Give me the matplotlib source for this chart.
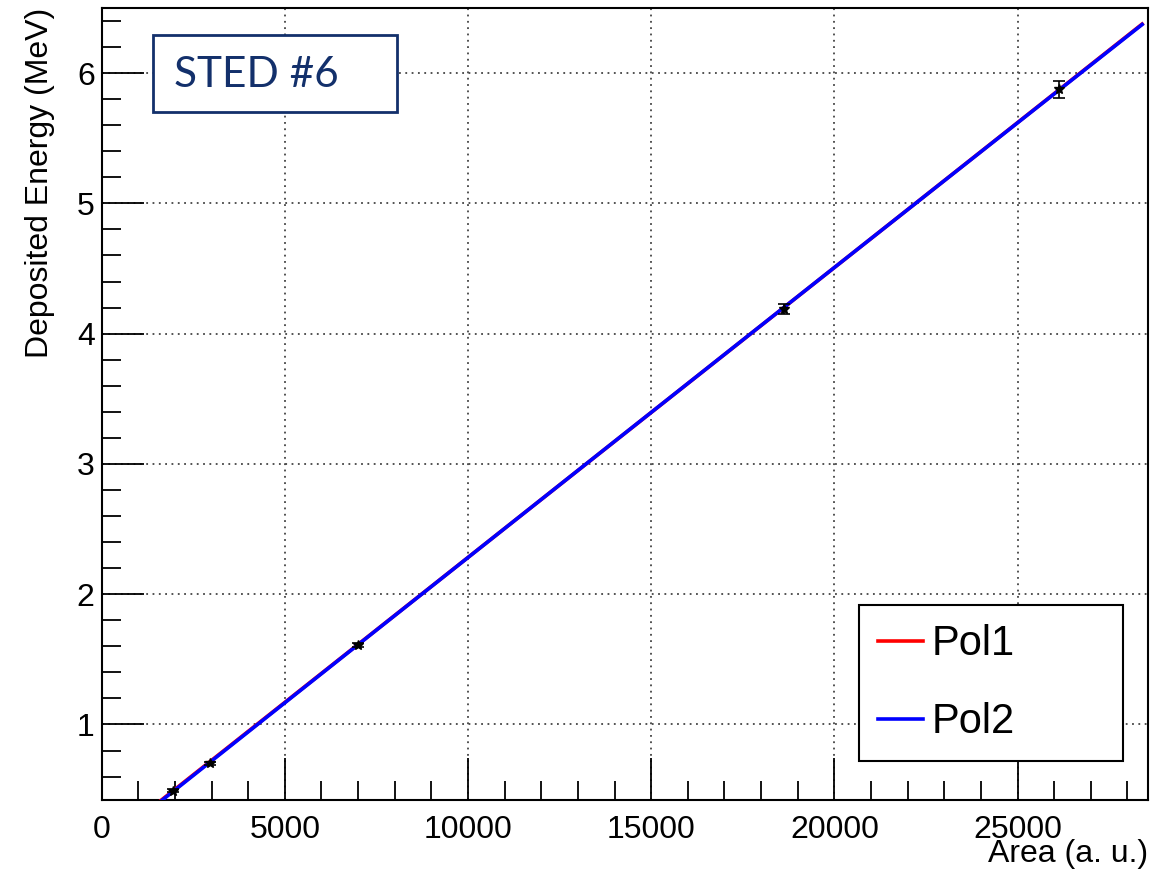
import numpy as np
import matplotlib.pyplot as plt
from matplotlib.patches import Rectangle
from matplotlib.ticker import MultipleLocator

plt.rcParams['font.family'] = ['Liberation Sans', 'DejaVu Sans']

# calibration points: area vs deposited energy
area = [1960, 2955, 6990, 18620, 26130]
energy = [0.49, 0.703, 1.609, 4.19, 5.875]
energy_err = [0.012, 0.012, 0.015, 0.036, 0.064]

# fit results (p0, p1, p2)
pol1_pars = [0.057, 2.2253e-4, 0.0]
pol2_pars = [0.050, 2.2350e-4, -3.0e-11]
fit_range = [1500, 28400]

fig = plt.figure(figsize=(11.7, 8.69), dpi=100)
ax = fig.add_axes([0.0869, 0.0794, 0.8943, 0.9114])

xf = np.linspace(fit_range[0], fit_range[1], 400)
for pars, col, lab in [(pol1_pars, '#ff0000', 'Pol1'), (pol2_pars, '#0000ff', 'Pol2')]:
    yf = pars[0] + pars[1]*xf + pars[2]*xf**2
    ax.plot(xf, yf, color=col, lw=2.6, label=lab, zorder=3)

ax.errorbar(area, energy, yerr=energy_err, fmt='*', color='black', ms=7,
            elinewidth=1.2, capsize=4, capthick=1.2, zorder=4)

ax.set_xlim(0, 28560)
ax.set_ylim(0.42, 6.50)

# ROOT-like axes: inward ticks on left/bottom only
ax.xaxis.set_major_locator(MultipleLocator(5000))
ax.xaxis.set_minor_locator(MultipleLocator(1000))
ax.yaxis.set_major_locator(MultipleLocator(1))
ax.yaxis.set_minor_locator(MultipleLocator(0.2))
ax.tick_params(which='both', direction='in', top=False, right=False, width=1.3, colors='black')
ax.tick_params(which='major', length=30, labelsize=23)
ax.tick_params(which='minor', length=14)
ax.tick_params(axis='x', pad=11)
ax.tick_params(axis='y', pad=5)
for sp in ax.spines.values():
    sp.set_linewidth(1.5)

ax.grid(True, which='major', color='#444444', linestyle=(0, (1, 2.5)), linewidth=1.3)
ax.set_axisbelow(True)

ax.set_xlabel('Area (a. u.)', fontsize=23, loc='right')
ax.set_ylabel('Deposited Energy (MeV)', fontsize=23, loc='top')
ax.xaxis.set_label_coords(1.0, -0.049)
ax.yaxis.set_label_coords(-0.045, 1.0)

leg = ax.legend(loc='lower left', bbox_to_anchor=(0.7238, 0.049, 0.2522, 0.196),
                mode='expand', borderaxespad=0, fontsize=30, handlelength=1.08,
                handletextpad=0.22, borderpad=0.45, labelspacing=0.92,
                fancybox=False, framealpha=1, edgecolor='black')
leg.get_frame().set_linewidth(1.5)

# detector tag
navy = '#13306b'
ax.add_patch(Rectangle((0.049, 0.8687), 0.2333, 0.0972, transform=ax.transAxes,
                       facecolor='white', edgecolor=navy, lw=2, zorder=5))
ax.text(0.0691, 0.9006, 'STED #6', transform=ax.transAxes, fontsize=30.5,
        color=navy, family=['Lato', 'DejaVu Sans'], va='baseline', ha='left', zorder=6)

fig.patch.set_facecolor('white')
fig.savefig('out.png', dpi=100)
